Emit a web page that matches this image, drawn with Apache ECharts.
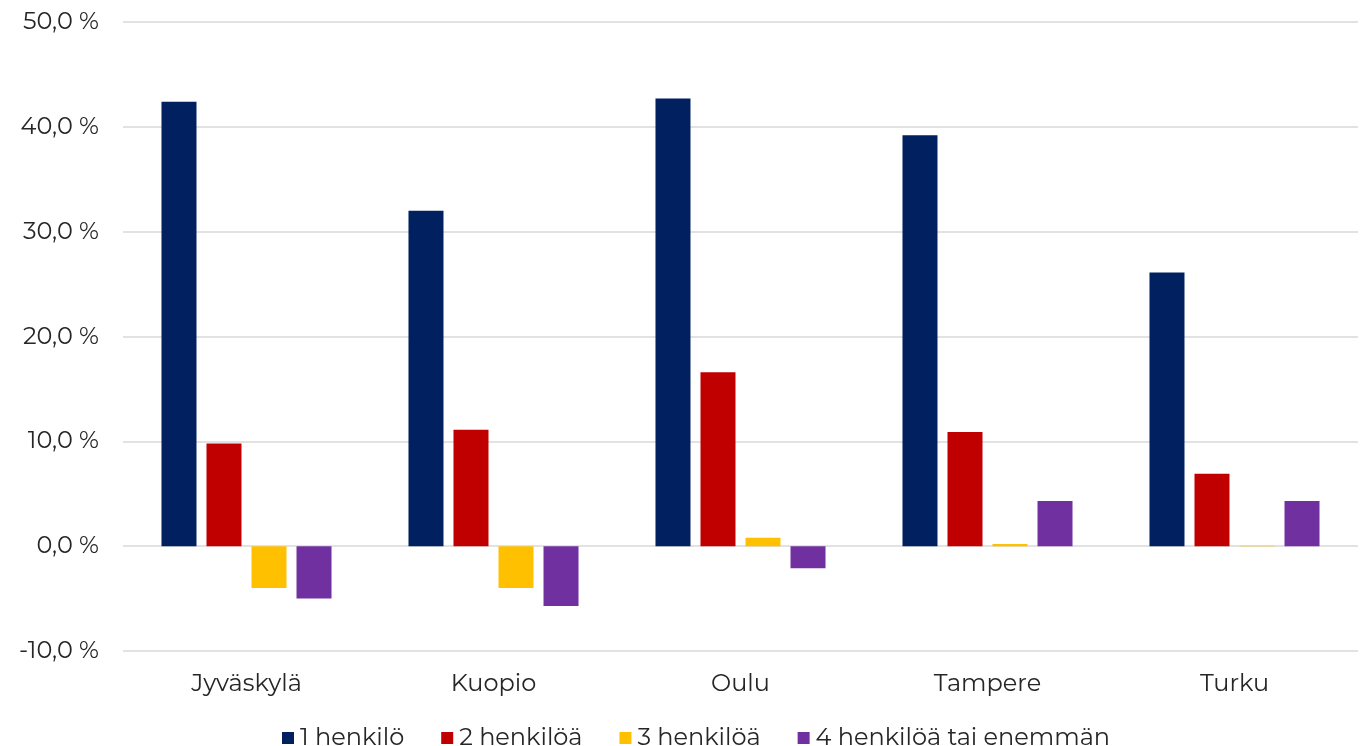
<!DOCTYPE html>
<html>
<head>
<meta charset="utf-8">
<script src="https://cdn.jsdelivr.net/npm/echarts@6/dist/echarts.min.js"></script>
<style>html,body{margin:0;padding:0;background:#fff}#c{width:1368px;height:746px}</style>
</head>
<body>
<div id="c"></div>
<script>
const categories = ['Jyväskylä', 'Kuopio', 'Oulu', 'Tampere', 'Turku'];
const seriesNames = ['1 henkilö', '2 henkilöä', '3 henkilöä', '4 henkilöä tai enemmän'];
const s1 = [42.4, 32.0, 42.7, 39.2, 26.1];
const s2 = [9.8, 11.1, 16.6, 10.9, 6.9];
const s3 = [-4.0, -4.0, 0.8, 0.2, 0.05];
const s4 = [-5.0, -5.7, -2.1, 4.3, 4.3];
const colors = ['#002060', '#C00000', '#FFC000', '#7030A0'];
const yTicks = { min: -10, max: 50, interval: 10 };

const font = "Montserrat, 'DejaVu Sans', sans-serif";
const chart = echarts.init(document.getElementById('c'));
const data = [s1, s2, s3, s4];
chart.setOption({
  animation: false,
  textStyle: { fontFamily: font },
  grid: { left: 123, right: 10, top: 22, bottom: 95, containLabel: false },
  legend: {
    bottom: -9, left: 277,
    itemWidth: 12, itemHeight: 12, itemGap: 37,
    icon: 'rect',
    textStyle: { fontFamily: font, fontSize: 24, color: '#262626', padding: [0, 0, 0, 1] },
    data: seriesNames
  },
  xAxis: {
    type: 'category', data: categories,
    axisLine: { show: false, onZero: false },
    axisTick: { show: false },
    axisLabel: { fontFamily: font, fontSize: 24, color: '#262626', margin: 21 }
  },
  yAxis: {
    type: 'value', min: yTicks.min, max: yTicks.max, interval: yTicks.interval,
    axisLine: { show: false }, axisTick: { show: false },
    splitLine: { lineStyle: { color: '#d9d9d9', width: 1.5 } },
    axisLabel: {
      fontFamily: font, fontSize: 24, color: '#262626', margin: 24,
      formatter: v => v.toFixed(1).replace('.', ',') + ' %'
    }
  },
  series: seriesNames.map((n, i) => ({
    name: n, type: 'bar', data: data[i],
    barWidth: 35, barGap: '28.6%', barCategoryGap: '31%',
    itemStyle: { color: colors[i] }
  }))
});
</script>
</body>
</html>
